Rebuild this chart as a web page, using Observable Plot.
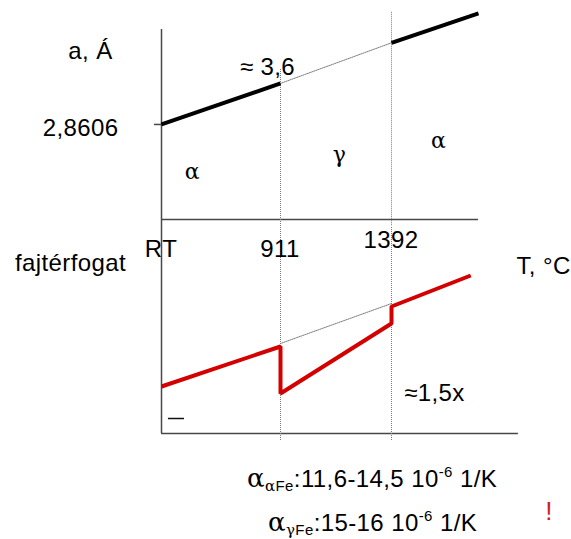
<!DOCTYPE html>
<html>
<head>
<meta charset="utf-8">
<script src="https://cdn.jsdelivr.net/npm/d3@7"></script>
<script src="https://cdn.jsdelivr.net/npm/@observablehq/plot@0.6"></script>
<style>
  html, body { margin: 0; padding: 0; background: #fff; }
  #chart { position: relative; width: 571px; height: 539px; overflow: hidden; }
  #chart svg { display: block; }
</style>
</head>
<body>
<div id="chart"></div>
<script>
// Phase boundaries of iron (°C): room temperature, α→γ, γ→α(δ), melting
const transitionT = [20, 911, 1392, 1538];
const transitionLabels = ["RT", "911", "1392"];
const phaseLabels = ["α", "γ", "α"];

// Lattice parameter a (Å), schematic
const alphaLowT = [20, 911];
const alphaLowA = [2.8606, 3.6];
const gammaT = [911, 1392];
const gammaA = [3.6, 4.33];
const alphaHighT = [1392, 1538];
const alphaHighA = [4.33, 4.86];

// Specific volume (schematic units)
const volumeT = [20, 911, 911, 1392, 1392, 1525];
const volumeV = [23.5, 43.5, 20, 55, 63.5, 79];
const volumeTrendT = [911, 1392];
const volumeTrendV = [45, 65];
const volumeRatioLabel = "≈1,5x";

// Thermal expansion coefficients (10⁻⁶ 1/K)
const coeffPhases = ["α", "γ"];
const coeffRanges = ["11,6-14,5", "15-16"];

const SANS = "'Liberation Sans', Arial, sans-serif";
const GREEK = "'DejaVu Serif', 'Liberation Serif', serif";
const AXIS = "#474747";
const DOT = "#7a7a7a";
const comma = (v) => String(v).replace(".", ",");
const zip = (xs, ys, k) => xs.map((t, i) => ({t, [k]: ys[i]}));

const xScale = {type: "linear", domain: transitionT, range: [161, 280, 391, 478], axis: null};
const style = {fontFamily: SANS, fontSize: "24px", color: "#000", background: "transparent", overflow: "hidden", letterSpacing: "0.4px"};

// Upper panel: lattice parameter vs temperature
const topPlot = Plot.plot({
  width: 571,
  height: 226,
  margin: 0,
  x: xScale,
  y: {type: "linear", domain: [1.15, 4.57], range: [219, 29], axis: null},
  style,
  marks: [
    Plot.ruleX([transitionT[0]], {y1: 0.9, y2: 4.57, stroke: AXIS, strokeWidth: 1.5}),
    Plot.ruleY([1.15], {x1: transitionT[0], x2: transitionT[3], stroke: AXIS, strokeWidth: 1.5}),
    Plot.ruleY([alphaLowA[0]], {x1: transitionT[0], x2: transitionT[0], insetLeft: -7, stroke: AXIS, strokeWidth: 1.5}),
    Plot.ruleX(transitionT.slice(1, 3), {y1: (d) => (d === 911 ? 3.85 : 4.88), y2: 0.9, stroke: DOT, strokeWidth: 1, strokeDasharray: "1,1"}),
    Plot.line(zip(gammaT, gammaA, "a"), {x: "t", y: "a", stroke: DOT, strokeWidth: 1, strokeDasharray: "1,1"}),
    Plot.line(zip(alphaLowT, alphaLowA, "a"), {x: "t", y: "a", stroke: "#000", strokeWidth: 4, strokeLinecap: "butt"}),
    Plot.line(zip(alphaHighT, alphaHighA, "a"), {x: "t", y: "a", stroke: "#000", strokeWidth: 4, strokeLinecap: "butt"}),
    Plot.text(["a, Á"], {x: transitionT[0], y: 4.048, dx: -71, text: (d) => d, lineAnchor: "bottom", fontSize: 24}),
    Plot.text([alphaLowA[0]], {x: transitionT[0], y: (d) => d, dx: -43, dy: 4, text: comma, textAnchor: "end", lineAnchor: "middle", fontSize: 24}),
    Plot.text([gammaA[0]], {x: gammaT[0], y: (d) => d, dx: -13, dy: -8, text: (d) => "≈ " + comma(d), lineAnchor: "bottom", fontSize: 24}),
    Plot.text(phaseLabels, {
      x: [252, 1167, 1471],
      y: [1.888, 2.19, 2.446],
      text: (d) => d,
      lineAnchor: "bottom",
      fontFamily: GREEK,
      fontSize: 22
    })
  ]
});

// Lower panel: specific volume vs temperature
const bottomPlot = Plot.plot({
  width: 571,
  height: 222,
  margin: 0,
  x: xScale,
  y: {type: "linear", domain: [0, 100], range: [207, 7], axis: null},
  style,
  marks: [
    Plot.ruleX([transitionT[0]], {y1: 0, y2: 105, stroke: AXIS, strokeWidth: 1.5}),
    Plot.ruleY([0], {x1: transitionT[0], x2: 1605, stroke: AXIS, strokeWidth: 1.5}),
    Plot.ruleX(transitionT.slice(1, 3), {y1: -3.5, y2: 105, stroke: DOT, strokeWidth: 1, strokeDasharray: "1,1"}),
    Plot.ruleY([7.5], {x1: 72, x2: 192, stroke: "#111", strokeWidth: 1.5}),
    Plot.line(zip(volumeTrendT, volumeTrendV, "v"), {x: "t", y: "v", stroke: DOT, strokeWidth: 1, strokeDasharray: "1,1"}),
    Plot.line(zip(volumeT, volumeV, "v"), {x: "t", y: "v", stroke: "#d40000", strokeWidth: 4, strokeLinejoin: "miter", strokeLinecap: "butt"}),
    Plot.text(transitionLabels, {
      x: transitionT.slice(0, 3),
      y: [88, 88, 92.5],
      dx: [3, -5, 12],
      text: (d) => d,
      lineAnchor: "bottom",
      fontSize: 24
    }),
    Plot.text(["fajtérfogat"], {x: transitionT[0], y: 81.5, dx: -91, text: (d) => d, lineAnchor: "bottom", fontSize: 24}),
    Plot.text(["T, °C"], {x: transitionT[3], y: 80, dx: 65, text: (d) => d, lineAnchor: "bottom", fontSize: 24}),
    Plot.text([volumeRatioLabel], {x: 1464, y: 16.5, text: (d) => d, lineAnchor: "bottom", fontSize: 24})
  ]
});

// Caption: thermal expansion coefficients of α- and γ-iron
const caption = d3.create("svg")
  .attr("width", 571)
  .attr("height", 91)
  .style("font-family", SANS)
  .style("font-size", "24px")
  .style("letter-spacing", "0.4px");

coeffPhases.forEach((phase, i) => {
  const t = caption.append("text")
    .attr("x", [247, 268][i])
    .attr("y", [39, 83][i])
    .attr("fill", "#000");
  t.append("tspan").attr("font-family", GREEK).attr("font-size", 26).text("α");
  t.append("tspan").attr("font-size", 15).attr("dy", 4)
    .call((s) => s.append("tspan").attr("font-family", GREEK).text(phase))
    .call((s) => s.append("tspan").text("Fe"));
  t.append("tspan").attr("dy", -4).text(":" + coeffRanges[i] + " 10");
  t.append("tspan").attr("font-size", 15).attr("dy", -10).text("-6");
  t.append("tspan").attr("dy", 10).text(" 1/K");
});

caption.append("text")
  .attr("x", 549)
  .attr("y", 72)
  .attr("text-anchor", "middle")
  .attr("fill", "#d42020")
  .attr("font-size", 26)
  .text("!");

const root = document.getElementById("chart");
root.append(topPlot, bottomPlot, caption.node());
</script>
</body>
</html>
